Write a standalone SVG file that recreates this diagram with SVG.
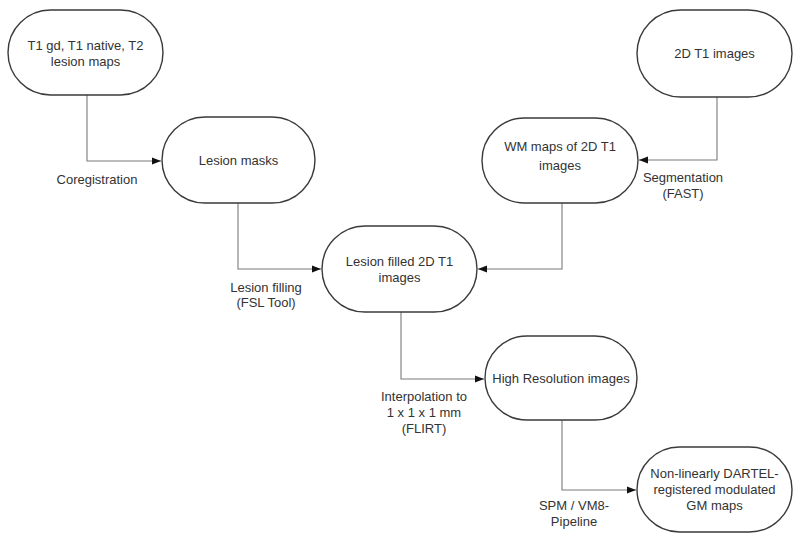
<svg xmlns="http://www.w3.org/2000/svg" width="800" height="542" viewBox="0 0 800 542">
  <style>
    .node rect { fill: #ffffff; stroke: #3a3a3a; stroke-width: 1.4; }
    .t { font-family: "Liberation Sans", Arial, sans-serif; font-size: 13px; fill: #333333; text-anchor: middle; }
    .conn path { fill: none; stroke: #7a7a7a; stroke-width: 1.1; }
  </style>
  <defs>
    <marker id="arr" viewBox="0 0 10 10" refX="10" refY="5" markerWidth="9" markerHeight="9" markerUnits="userSpaceOnUse" orient="auto">
      <path d="M0,1 L10,5 L0,9 Z" fill="#111111"/>
    </marker>
  </defs>
  <rect x="0" y="0" width="800" height="542" fill="#ffffff"/>

  <g id="connectors" class="conn">
    <path d="M87,95 V161 H161" marker-end="url(#arr)"/>
    <path d="M717,97 V160 H639" marker-end="url(#arr)"/>
    <path d="M238,203 V269 H321" marker-end="url(#arr)"/>
    <path d="M562,203 V269 H478" marker-end="url(#arr)"/>
    <path d="M401,312 V379 H484" marker-end="url(#arr)"/>
    <path d="M562,420 V490 H636" marker-end="url(#arr)"/>
  </g>

  <g id="labels">
    <text class="t" x="97" y="184">Coregistration</text>
    <text class="t" x="683" y="182">Segmentation</text>
    <text class="t" x="683" y="198">(FAST)</text>
    <text class="t" x="266" y="292">Lesion filling</text>
    <text class="t" x="266" y="307">(FSL Tool)</text>
    <text class="t" x="424" y="401">Interpolation to</text>
    <text class="t" x="424" y="417">1 x 1 x 1 mm</text>
    <text class="t" x="424" y="433">(FLIRT)</text>
    <text class="t" x="574" y="510">SPM / VM8-</text>
    <text class="t" x="574" y="526">Pipeline</text>
  </g>

  <g id="n-lesion-maps" class="node">
    <rect x="8" y="10" width="155" height="85" rx="42.5" ry="42.5"/>
    <text class="t" x="85.5" y="50">T1 gd, T1 native, T2</text>
    <text class="t" x="85.5" y="66">lesion maps</text>
  </g>
  <g id="n-lesion-masks" class="node">
    <rect x="162" y="117" width="153" height="86" rx="43" ry="43"/>
    <text class="t" x="238.5" y="165">Lesion masks</text>
  </g>
  <g id="n-2d-t1" class="node">
    <rect x="637" y="10" width="155" height="87" rx="43.5" ry="43.5"/>
    <text class="t" x="714.5" y="58">2D T1 images</text>
  </g>
  <g id="n-wm-maps" class="node">
    <rect x="482" y="118" width="156" height="85" rx="42.5" ry="42.5"/>
    <text class="t" x="560" y="151">WM maps of 2D T1</text>
    <text class="t" x="560" y="170">images</text>
  </g>
  <g id="n-lesion-filled" class="node">
    <rect x="322" y="226" width="155" height="86" rx="43" ry="43"/>
    <text class="t" x="399.5" y="266">Lesion filled 2D T1</text>
    <text class="t" x="399.5" y="282">images</text>
  </g>
  <g id="n-high-res" class="node">
    <rect x="485" y="336" width="152" height="84" rx="42" ry="42"/>
    <text class="t" x="561" y="383">High Resolution images</text>
  </g>
  <g id="n-gm-maps" class="node">
    <rect x="637" y="447" width="155" height="85" rx="42.5" ry="42.5"/>
    <text class="t" x="714.5" y="478">Non-linearly DARTEL-</text>
    <text class="t" x="714.5" y="494">registered modulated</text>
    <text class="t" x="714.5" y="510">GM maps</text>
  </g>
</svg>
